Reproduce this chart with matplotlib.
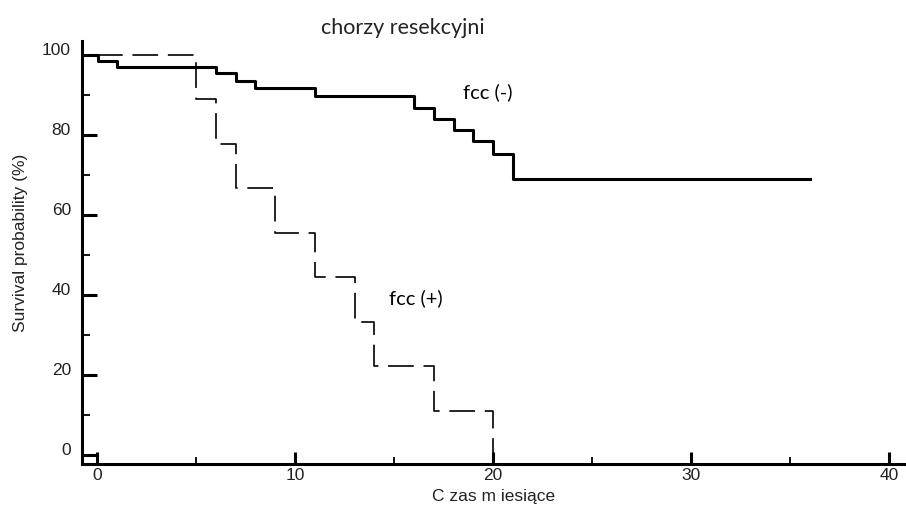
import numpy as np
import matplotlib.pyplot as plt
import matplotlib.transforms as mtransforms

plt.rcParams['lines.scale_dashes'] = False

# Krzywe przezycia (Kaplan-Meier), czas w miesiacach, przezycie w %
czas_fcc_minus = [0, 0.05, 1, 6, 7, 8, 11, 16, 17, 18, 19, 20, 21, 36]
przezycie_fcc_minus = [100, 98.5, 97, 95.5, 93.5, 91.7, 89.7, 86.8, 83.9, 81.2, 78.5, 75.2, 68.9, 68.9]

czas_fcc_plus = [0, 5, 6, 7, 9, 11, 13, 14, 17, 20]
przezycie_fcc_plus = [100, 88.9, 77.8, 66.7, 55.6, 44.4, 33.3, 22.2, 11.1, 0]

x_ticks = [0, 10, 20, 30, 40]
x_minor = [5, 15, 25, 35]
y_ticks = [0, 20, 40, 60, 80, 100]
y_minor = [10, 30, 50, 70, 90]

fig = plt.figure(figsize=(9.06, 5.12), dpi=100)
ax = fig.add_axes([0.0905, 0.0938, 0.9085, 0.8262])

ax.step(czas_fcc_minus, przezycie_fcc_minus, where='post', color='black', linewidth=2.2)
ax.step(czas_fcc_plus, przezycie_fcc_plus, where='post', color='black', linewidth=1.2,
        dashes=(18.5, 7))

ax.set_xlim(-0.76, 40.8)
ax.set_ylim(-2.25, 103.5)

for s in ['top', 'right']:
    ax.spines[s].set_visible(False)
for s in ['left', 'bottom']:
    ax.spines[s].set_linewidth(2.2)

ax.set_xticks(x_ticks)
ax.set_xticks(x_minor, minor=True)
ax.set_yticks(y_ticks)
ax.set_yticks(y_minor, minor=True)
ax.tick_params(axis='both', which='major', direction='in', width=2.2, labelsize=12.5,
               colors='black', labelcolor='#222222')
ax.tick_params(axis='y', which='major', length=11, pad=8)
ax.tick_params(axis='x', which='major', length=9, pad=3)
ax.tick_params(axis='y', which='minor', direction='in', length=6, width=1.3)
ax.tick_params(axis='x', which='minor', direction='in', length=5, width=1.3)

# etykiety osi Y lekko ponad kreskami
przesun = mtransforms.ScaledTranslation(0, 4 / 72, fig.dpi_scale_trans)
for lab in ax.get_yticklabels():
    lab.set_transform(lab.get_transform() + przesun)
    lab.set_fontfamily('Liberation Sans')
for lab in ax.get_xticklabels():
    lab.set_fontfamily('Liberation Sans')

fig.text(0.0225, 0.525, 'Survival probability (%)', rotation=90, ha='center', va='center',
         fontsize=12.5, family='Liberation Sans', color='#222222')
fig.text(0.545, 0.03, 'C zas m iesiące', ha='center', va='center',
         fontsize=12.5, family='Liberation Sans', color='#222222')
fig.text(0.445, 0.945, 'chorzy resekcyjni', ha='center', va='center',
         fontsize=15.5, family='Lato', color='#222222')

ax.text(19.75, 90.75, 'fcc (-)', ha='center', va='center', fontsize=14.5, family='Lato')
ax.text(16.1, 39.25, 'fcc (+)', ha='center', va='center', fontsize=14.5, family='Lato')

plt.savefig('out.png', dpi=100)
